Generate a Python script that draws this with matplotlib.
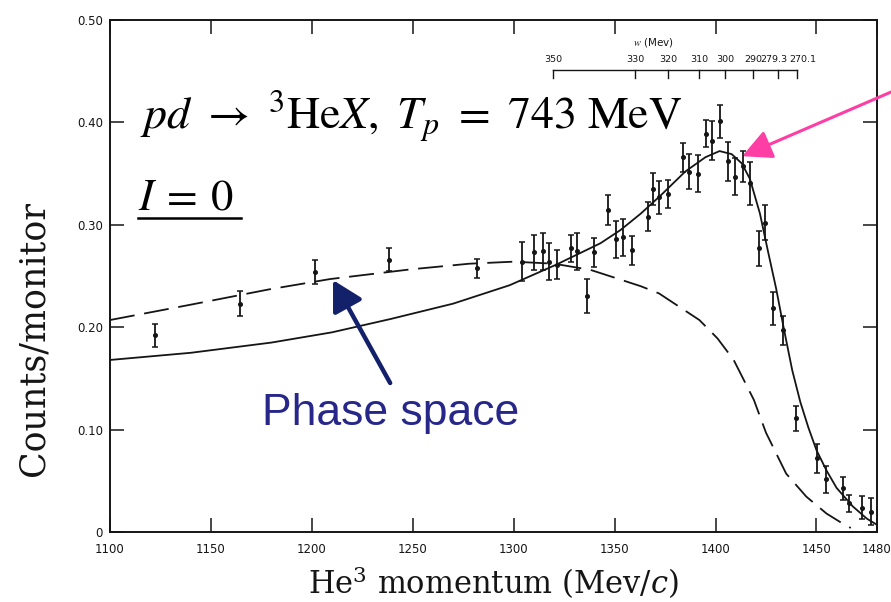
import matplotlib
matplotlib.use("Agg")
import matplotlib.pyplot as plt

# Measured He3 yield per monitor count vs. He3 laboratory momentum
momentum = [1122.3, 1164.4, 1201.6, 1238.2, 1281.7, 1304.0, 1310.3, 1314.7, 1317.7, 1321.7,
            1328.4, 1331.6, 1336.2, 1340.0, 1346.5, 1350.7, 1354.4, 1358.5, 1366.7, 1369.2,
            1372.2, 1376.6, 1384.0, 1387.0, 1391.5, 1395.3, 1398.2, 1402.3, 1406.4, 1409.7,
            1413.5, 1417.1, 1421.3, 1424.6, 1428.6, 1433.3, 1440.0, 1450.5, 1454.8, 1463.0,
            1466.2, 1472.8, 1477.0]
counts = [0.192, 0.223, 0.254, 0.266, 0.2575, 0.264, 0.273, 0.274, 0.264, 0.261,
          0.277, 0.274, 0.2305, 0.273, 0.3145, 0.286, 0.288, 0.275, 0.308, 0.335,
          0.327, 0.330, 0.366, 0.352, 0.350, 0.389, 0.382, 0.401, 0.362, 0.347,
          0.357, 0.3405, 0.277, 0.302, 0.2185, 0.197, 0.111, 0.072, 0.0515, 0.0427,
          0.028, 0.0237, 0.0199]
errors = [0.011, 0.012, 0.012, 0.011, 0.009, 0.019, 0.017, 0.018, 0.018, 0.014,
          0.013, 0.018, 0.017, 0.014, 0.015, 0.018, 0.018, 0.014, 0.014, 0.016,
          0.016, 0.014, 0.014, 0.017, 0.018, 0.013, 0.019, 0.016, 0.019, 0.018,
          0.015, 0.021, 0.017, 0.017, 0.016, 0.014, 0.012, 0.014, 0.013, 0.011,
          0.008, 0.011, 0.013]

# Fitted curve (solid)
fit_p = [1100, 1140, 1180, 1210, 1239, 1270, 1298, 1321, 1343, 1353, 1363, 1373,
         1385, 1395, 1402, 1408, 1413, 1417, 1422, 1426, 1430, 1434, 1438, 1442,
         1446, 1450, 1455, 1460, 1468, 1475, 1480]
fit_v = [0.168, 0.175, 0.185, 0.195, 0.208, 0.223, 0.241, 0.261, 0.282, 0.295, 0.311, 0.329,
         0.352, 0.366, 0.372, 0.369, 0.360, 0.345, 0.311, 0.274, 0.238, 0.197, 0.158, 0.127,
         0.102, 0.080, 0.060, 0.043, 0.025, 0.013, 0.007]

# Phase-space curve (dashed)
ps_p = [1100, 1140, 1179, 1209, 1249, 1278, 1300, 1320, 1338, 1349, 1363, 1372,
        1382, 1392, 1401, 1409, 1419, 1425, 1435, 1445, 1455, 1464, 1467]
ps_v = [0.207, 0.222, 0.237, 0.247, 0.2565, 0.262, 0.264, 0.262, 0.256, 0.249, 0.240, 0.233,
        0.220, 0.207, 0.189, 0.168, 0.129, 0.097, 0.057, 0.0345, 0.018, 0.007, 0.004]

x_ticks = [1100, 1150, 1200, 1250, 1300, 1350, 1400, 1450, 1480]
y_ticks = [0, 0.10, 0.20, 0.30, 0.40, 0.50]
y_tick_labels = ["0", "0.10", "0.20", "0.30", "0.40", "0.50"]

# Missing-mass (w) scale shown above the peak
w_labels = ["350", "330", "320", "310", "300", "290", "279.3", "270.1"]
w_positions = [1319.4, 1360.2, 1376.5, 1391.9, 1404.8, 1418.5, 1431.0, 1440.3]

plt.rcParams["mathtext.fontset"] = "stix"
plt.rcParams["lines.scale_dashes"] = False

fig = plt.figure(figsize=(8.91, 6.02), dpi=100)
ax = fig.add_axes([110 / 891, 1 - 532 / 602, 767 / 891, 512 / 602])
ax.set_xlim(1100, 1480)
ax.set_ylim(0, 0.5)

ink = "#151515"
for s in ax.spines.values():
    s.set_linewidth(1.4)
    s.set_color(ink)

ax.set_xticks(x_ticks)
ax.set_xticklabels([str(t) for t in x_ticks])
ax.set_yticks(y_ticks)
ax.set_yticklabels(y_tick_labels)
ax.tick_params(direction="in", length=10, width=1.1, top=True, right=True,
               labelsize=8.5, colors=ink)
ax.tick_params(axis="x", pad=8)
ax.tick_params(axis="y", pad=5)

# curves
ax.plot(fit_p, fit_v, color=ink, lw=1.3)
ax.plot(ps_p, ps_v, color=ink, lw=1.3, linestyle=(0, (18, 7)))

# data
ax.errorbar(momentum, counts, yerr=errors, fmt="o", ms=2.6, color=ink,
            elinewidth=1.3, capsize=2.3, capthick=1.1)

# w scale
w_y = 0.451
ax.plot([w_positions[0], w_positions[-1]], [w_y, w_y], color=ink, lw=1.0)
for wp in w_positions:
    ax.plot([wp, wp], [w_y, w_y - 0.008], color=ink, lw=1.0)
label_shift = {"279.3": -2.0, "270.1": 3.0}
for wp, wl in zip(w_positions, w_labels):
    ax.text(wp + label_shift.get(wl, 0.0), w_y + 0.006, wl, ha="center", va="bottom",
            fontsize=6.8, color=ink)
ax.text(1369, 0.4785, r"$w$ (Mev)", ha="center", va="center", fontsize=7.5,
        color=ink)

# axis titles
ax.set_ylabel("Counts/monitor", fontfamily="DejaVu Serif", fontsize=25, color=ink,
              va="center")
ax.yaxis.set_label_coords(-0.100, 0.378)
ax.set_xlabel(r"He$^3$ momentum (Mev/$c$)", fontfamily="DejaVu Serif", fontsize=22,
              color=ink, math_fontfamily="dejavuserif", va="center")
ax.xaxis.set_label_coords(0.5, -0.0996)

# reaction and isospin
ax.text(0.039, 0.787,
        r"$pd\ \rightarrow\ {}^{3}\mathrm{He}X,\ T_p\ =\ 743\ \mathrm{MeV}$",
        transform=ax.transAxes, fontsize=33, color="black", va="baseline", ha="left")
ax.text(0.037, 0.629, r"$I\:=\:0$", transform=ax.transAxes, fontsize=32,
        color="black", va="baseline", ha="left")
ax.plot([0.036, 0.171], [0.613, 0.613], transform=ax.transAxes, color="black", lw=1.8)

ax.text(0.198, 0.209, "Phase space", transform=ax.transAxes, fontsize=32,
        fontfamily="Liberation Sans", color="#27278a", va="baseline", ha="left")

ax.annotate("", xy=(1210.5, 0.246), xytext=(1238.8, 0.1455),
            arrowprops=dict(arrowstyle="-|>,head_length=0.9,head_width=0.5",
                            lw=3.2, color="#13206a", mutation_scale=20,
                            shrinkA=0, shrinkB=0))
ax.annotate("", xy=(1413.2, 0.367), xytext=(1487, 0.4297), annotation_clip=False,
            arrowprops=dict(arrowstyle="-|>,head_length=0.9,head_width=0.45",
                            lw=2.2, color="#ff3ea5", mutation_scale=20,
                            shrinkA=0, shrinkB=0))

fig.savefig("out.png", dpi=100)
